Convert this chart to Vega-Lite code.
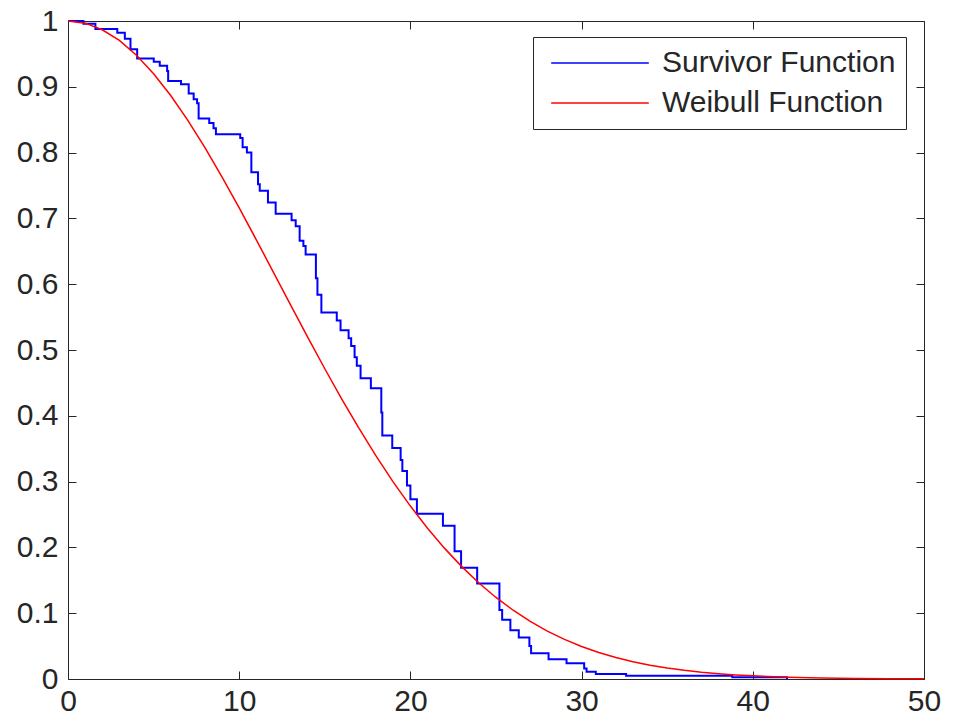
{
  "$schema": "https://vega.github.io/schema/vega-lite/v6.json",
  "autosize": {"type": "none"},
  "padding": {"left": 68, "top": 21, "right": 30, "bottom": 41},
  "width": 856,
  "height": 658,
  "background": "white",
  "config": {
    "font": "Liberation Sans",
    "view": {"stroke": "#262626", "strokeWidth": 1},
    "axis": {
      "grid": false,
      "domain": false,
      "tickColor": "#262626",
      "tickSize": -8,
      "tickWidth": 1,
      "labelFont": "Liberation Sans",
      "labelFontSize": 30,
      "labelColor": "#262626",
      "title": null
    }
  },
  "datasets": {
    "km": [
      {"t": 0, "s": 1, "series": "Survivor Function"},
      {"t": 0.9, "s": 0.996, "series": "Survivor Function"},
      {"t": 1.6, "s": 0.988, "series": "Survivor Function"},
      {"t": 2.88, "s": 0.982, "series": "Survivor Function"},
      {"t": 3.32, "s": 0.973, "series": "Survivor Function"},
      {"t": 3.65, "s": 0.957, "series": "Survivor Function"},
      {"t": 4.04, "s": 0.943, "series": "Survivor Function"},
      {"t": 5.01, "s": 0.938, "series": "Survivor Function"},
      {"t": 5.36, "s": 0.932, "series": "Survivor Function"},
      {"t": 5.79, "s": 0.924, "series": "Survivor Function"},
      {"t": 5.85, "s": 0.909, "series": "Survivor Function"},
      {"t": 6.6, "s": 0.904, "series": "Survivor Function"},
      {"t": 7.05, "s": 0.89, "series": "Survivor Function"},
      {"t": 7.34, "s": 0.881, "series": "Survivor Function"},
      {"t": 7.54, "s": 0.875, "series": "Survivor Function"},
      {"t": 7.63, "s": 0.852, "series": "Survivor Function"},
      {"t": 8.25, "s": 0.845, "series": "Survivor Function"},
      {"t": 8.5, "s": 0.837, "series": "Survivor Function"},
      {"t": 8.64, "s": 0.828, "series": "Survivor Function"},
      {"t": 10.06, "s": 0.822, "series": "Survivor Function"},
      {"t": 10.2, "s": 0.808, "series": "Survivor Function"},
      {"t": 10.45, "s": 0.8, "series": "Survivor Function"},
      {"t": 10.71, "s": 0.77, "series": "Survivor Function"},
      {"t": 11.1, "s": 0.752, "series": "Survivor Function"},
      {"t": 11.2, "s": 0.742, "series": "Survivor Function"},
      {"t": 11.68, "s": 0.724, "series": "Survivor Function"},
      {"t": 12.13, "s": 0.707, "series": "Survivor Function"},
      {"t": 13.06, "s": 0.697, "series": "Survivor Function"},
      {"t": 13.3, "s": 0.688, "series": "Survivor Function"},
      {"t": 13.53, "s": 0.666, "series": "Survivor Function"},
      {"t": 13.75, "s": 0.658, "series": "Survivor Function"},
      {"t": 13.88, "s": 0.645, "series": "Survivor Function"},
      {"t": 14.48, "s": 0.609, "series": "Survivor Function"},
      {"t": 14.57, "s": 0.584, "series": "Survivor Function"},
      {"t": 14.8, "s": 0.557, "series": "Survivor Function"},
      {"t": 15.7, "s": 0.545, "series": "Survivor Function"},
      {"t": 15.92, "s": 0.53, "series": "Survivor Function"},
      {"t": 16.39, "s": 0.518, "series": "Survivor Function"},
      {"t": 16.54, "s": 0.506, "series": "Survivor Function"},
      {"t": 16.74, "s": 0.489, "series": "Survivor Function"},
      {"t": 16.87, "s": 0.476, "series": "Survivor Function"},
      {"t": 17.09, "s": 0.457, "series": "Survivor Function"},
      {"t": 17.69, "s": 0.442, "series": "Survivor Function"},
      {"t": 18.3, "s": 0.405, "series": "Survivor Function"},
      {"t": 18.36, "s": 0.37, "series": "Survivor Function"},
      {"t": 18.94, "s": 0.351, "series": "Survivor Function"},
      {"t": 19.43, "s": 0.333, "series": "Survivor Function"},
      {"t": 19.53, "s": 0.316, "series": "Survivor Function"},
      {"t": 19.8, "s": 0.294, "series": "Survivor Function"},
      {"t": 20.0, "s": 0.273, "series": "Survivor Function"},
      {"t": 20.38, "s": 0.251, "series": "Survivor Function"},
      {"t": 21.9, "s": 0.233, "series": "Survivor Function"},
      {"t": 22.58, "s": 0.194, "series": "Survivor Function"},
      {"t": 22.96, "s": 0.169, "series": "Survivor Function"},
      {"t": 23.9, "s": 0.145, "series": "Survivor Function"},
      {"t": 25.2, "s": 0.105, "series": "Survivor Function"},
      {"t": 25.36, "s": 0.09, "series": "Survivor Function"},
      {"t": 25.84, "s": 0.074, "series": "Survivor Function"},
      {"t": 26.33, "s": 0.063, "series": "Survivor Function"},
      {"t": 26.95, "s": 0.05, "series": "Survivor Function"},
      {"t": 27.05, "s": 0.039, "series": "Survivor Function"},
      {"t": 28.07, "s": 0.03, "series": "Survivor Function"},
      {"t": 29.12, "s": 0.024, "series": "Survivor Function"},
      {"t": 30.15, "s": 0.016, "series": "Survivor Function"},
      {"t": 30.29, "s": 0.011, "series": "Survivor Function"},
      {"t": 30.83, "s": 0.0076, "series": "Survivor Function"},
      {"t": 32.6, "s": 0.005, "series": "Survivor Function"},
      {"t": 38.8, "s": 0.0025, "series": "Survivor Function"},
      {"t": 42, "s": 0, "series": "Survivor Function"}
    ],
    "wb": [
      {"t": 0, "s": 1, "series": "Weibull Function"},
      {"t": 1, "s": 0.9967, "series": "Weibull Function"},
      {"t": 2, "s": 0.9867, "series": "Weibull Function"},
      {"t": 3, "s": 0.9704, "series": "Weibull Function"},
      {"t": 4, "s": 0.9479, "series": "Weibull Function"},
      {"t": 5, "s": 0.9199, "series": "Weibull Function"},
      {"t": 6, "s": 0.8867, "series": "Weibull Function"},
      {"t": 7, "s": 0.849, "series": "Weibull Function"},
      {"t": 8, "s": 0.8075, "series": "Weibull Function"},
      {"t": 9, "s": 0.7629, "series": "Weibull Function"},
      {"t": 10, "s": 0.716, "series": "Weibull Function"},
      {"t": 11, "s": 0.6675, "series": "Weibull Function"},
      {"t": 12, "s": 0.6181, "series": "Weibull Function"},
      {"t": 13, "s": 0.5685, "series": "Weibull Function"},
      {"t": 14, "s": 0.5195, "series": "Weibull Function"},
      {"t": 15, "s": 0.4715, "series": "Weibull Function"},
      {"t": 16, "s": 0.4251, "series": "Weibull Function"},
      {"t": 17, "s": 0.3808, "series": "Weibull Function"},
      {"t": 18, "s": 0.3387, "series": "Weibull Function"},
      {"t": 19, "s": 0.2993, "series": "Weibull Function"},
      {"t": 20, "s": 0.2628, "series": "Weibull Function"},
      {"t": 21, "s": 0.2291, "series": "Weibull Function"},
      {"t": 22, "s": 0.1985, "series": "Weibull Function"},
      {"t": 23, "s": 0.1708, "series": "Weibull Function"},
      {"t": 24, "s": 0.1459, "series": "Weibull Function"},
      {"t": 25, "s": 0.1239, "series": "Weibull Function"},
      {"t": 26, "s": 0.1045, "series": "Weibull Function"},
      {"t": 27, "s": 0.0875, "series": "Weibull Function"},
      {"t": 28, "s": 0.0728, "series": "Weibull Function"},
      {"t": 29, "s": 0.0602, "series": "Weibull Function"},
      {"t": 30, "s": 0.0494, "series": "Weibull Function"},
      {"t": 31, "s": 0.0403, "series": "Weibull Function"},
      {"t": 32, "s": 0.0327, "series": "Weibull Function"},
      {"t": 33, "s": 0.0263, "series": "Weibull Function"},
      {"t": 34, "s": 0.021, "series": "Weibull Function"},
      {"t": 35, "s": 0.0167, "series": "Weibull Function"},
      {"t": 36, "s": 0.0132, "series": "Weibull Function"},
      {"t": 37, "s": 0.0103, "series": "Weibull Function"},
      {"t": 38, "s": 0.008, "series": "Weibull Function"},
      {"t": 39, "s": 0.0062, "series": "Weibull Function"},
      {"t": 40, "s": 0.0048, "series": "Weibull Function"},
      {"t": 42, "s": 0.0028, "series": "Weibull Function"},
      {"t": 44, "s": 0.0016, "series": "Weibull Function"},
      {"t": 46, "s": 0.00085, "series": "Weibull Function"},
      {"t": 48, "s": 0.00045, "series": "Weibull Function"},
      {"t": 50, "s": 0.00024, "series": "Weibull Function"}
    ]
  },
  "layer": [
    {
      "data": {"name": "km"},
      "mark": {"type": "line", "interpolate": "step-after", "strokeWidth": 2},
      "encoding": {
        "x": {
          "field": "t", "type": "quantitative",
          "scale": {"domain": [0, 50], "nice": false, "zero": false},
          "axis": {"orient": "bottom", "values": [0, 10, 20, 30, 40, 50], "labelPadding": 15, "labelFlush": false}
        },
        "y": {
          "field": "s", "type": "quantitative",
          "scale": {"domain": [0, 1], "nice": false},
          "axis": {"orient": "left", "values": [0, 0.1, 0.2, 0.3, 0.4, 0.5, 0.6, 0.7, 0.8, 0.9, 1], "format": "~g", "labelPadding": 18, "labelFlush": false}
        },
        "color": {
          "field": "series", "type": "nominal",
          "scale": {"domain": ["Survivor Function", "Weibull Function"], "range": ["#0000ff", "#ff0000"]},
          "legend": {
            "title": null,
            "orient": "none",
            "legendX": 465,
            "legendY": 16,
            "direction": "vertical",
            "strokeColor": "#262626",
            "fillColor": "white",
            "padding": 10,
            "symbolType": "stroke",
            "symbolSize": 9526,
            "symbolStrokeWidth": 1.5,
            "symbolOffset": 7,
            "labelFont": "Liberation Sans",
            "labelFontSize": 30,
            "labelColor": "#262626",
            "labelOffset": 12,
            "labelLimit": 400,
            "clipHeight": 32,
            "rowPadding": 8
          }
        }
      }
    },
    {
      "data": {"name": "wb"},
      "mark": {"type": "line", "strokeWidth": 1.5},
      "encoding": {
        "x": {
          "field": "t", "type": "quantitative",
          "axis": {"orient": "top", "values": [0, 10, 20, 30, 40, 50], "labels": false}
        },
        "y": {
          "field": "s", "type": "quantitative",
          "axis": {"orient": "right", "values": [0, 0.1, 0.2, 0.3, 0.4, 0.5, 0.6, 0.7, 0.8, 0.9, 1], "labels": false}
        },
        "color": {"field": "series", "type": "nominal"}
      }
    }
  ],
  "resolve": {"axis": {"x": "independent", "y": "independent"}}
}
